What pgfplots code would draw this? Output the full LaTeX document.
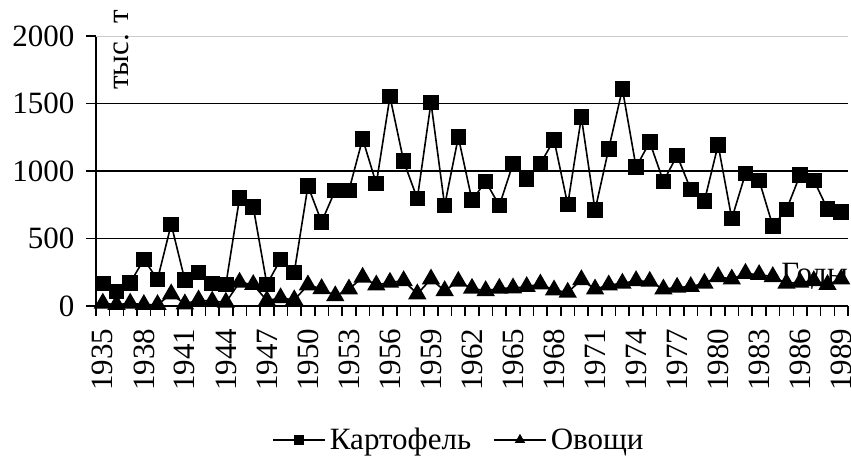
\documentclass[border=0pt]{standalone}
\usepackage{fontspec}
\setmainfont{Liberation Serif}
\usepackage{pgfplots}
\pgfplotsset{compat=1.18}
\newcommand\chartfont{\rmfamily\fontsize{31bp}{34bp}\selectfont}
\begin{document}
\begin{tikzpicture}
\path[use as bounding box] (0,0) rectangle (851bp,467bp);
\begin{axis}[
  at={(96bp,161bp)}, anchor=south west,
  scale only axis, width=752bp, height=270bp,
  xmin=1934.5, xmax=1989.5, ymin=0, ymax=2000,
  axis lines=left, axis line style={line width=1.6bp, -},
  clip=false,
  xtick={1935,1938,...,1989},
  minor xtick={1934.5,1935.5,...,1989.5},
  ytick={0,500,1000,1500},
  extra y ticks={2000},
  extra tick style={grid style={gray!40, line width=0.8bp}},
  ymajorgrids,
  grid style={black, line width=1.6bp},
  tick align=outside,
  major tick length=10bp, minor tick length=10bp,
  major x tick style={draw=none},
  every tick/.style={black, line width=1.6bp},
  minor x tick style={black, line width=1.6bp},
  /pgf/number format/1000 sep={},
  /pgf/number format/assume math mode=true,
  tick label style={font=\chartfont},
  xticklabel style={yshift=-9bp, rotate=90, anchor=east},
  yticklabel style={xshift=-8bp},
  legend style={font=\chartfont, draw=none, fill=none, legend columns=2,
    at={(axis description cs:0.484,-0.496)}, anchor=center,
    /tikz/every even column/.append style={column sep=18bp},
    nodes={inner xsep=4bp, inner ysep=0pt}, inner sep=0pt},
  legend image code/.code={\draw[mark repeat=2,mark phase=2, mark size=4.5bp] plot coordinates {(0bp,0bp)(26bp,0bp)(52bp,0bp)};},
]
\node[font=\chartfont, anchor=base east, inner sep=0pt] at (rel axis cs:1,0.085) {Годы};
\node[font=\chartfont, rotate=90, anchor=base west, inner sep=0pt] at (rel axis cs:0.0426,0.8) {тыс. т};
\addplot[black, line width=1.6bp, mark=square*, mark size=7bp, mark options={solid}] coordinates {
(1935,168)(1936,106)(1937,172)(1938,345)(1939,197)(1940,605)(1941,192)(1942,249)(1943,168)(1944,160)
(1945,800)(1946,733)(1947,160)(1948,345)(1949,249)(1950,889)(1951,623)(1952,857)(1953,857)(1954,1238)
(1955,906)(1956,1551)(1957,1073)(1958,795)(1959,1507)(1960,744)(1961,1251)(1962,783)(1963,923)(1964,744)
(1965,1054)(1966,941)(1967,1054)(1968,1231)(1969,751)(1970,1398)(1971,709)(1972,1165)(1973,1608)(1974,1029)
(1975,1214)(1976,923)(1977,1115)(1978,862)(1979,778)(1980,1194)(1981,647)(1982,980)(1983,931)(1984,593)
(1985,714)(1986,972)(1987,931)(1988,719)(1989,697)};
\addlegendentry{Картофель}
\addplot[black, line width=1.6bp, mark=triangle*, mark size=9bp, mark options={solid}] coordinates {
(1935,20)(1936,10)(1937,20)(1938,10)(1939,10)(1940,89)(1941,15)(1942,44)(1943,35)(1944,27)
(1945,175)(1946,158)(1947,40)(1948,60)(1949,45)(1950,155)(1951,128)(1952,75)(1953,125)(1954,212)
(1955,155)(1956,175)(1957,187)(1958,89)(1959,199)(1960,113)(1961,182)(1962,130)(1963,113)(1964,130)
(1965,133)(1966,143)(1967,162)(1968,118)(1969,101)(1970,194)(1971,125)(1972,155)(1973,168)(1974,187)
(1975,182)(1976,125)(1977,138)(1978,143)(1979,168)(1980,217)(1981,199)(1982,241)(1983,232)(1984,217)
(1985,168)(1986,175)(1987,187)(1988,158)(1989,199)};
\addlegendentry{Овощи}
\end{axis}
\end{tikzpicture}
\end{document}
